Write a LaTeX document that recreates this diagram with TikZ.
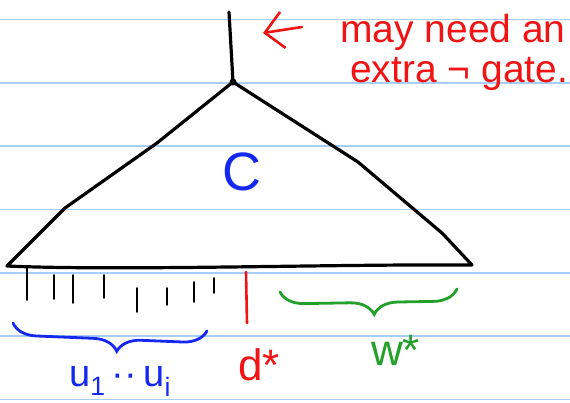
\documentclass[tikz,border=0pt]{standalone}
\usepackage{fontspec}
\setmainfont{Liberation Sans}
\usepackage{tikz}
\usetikzlibrary{arrows.meta,positioning,calc,decorations.pathreplacing}
\definecolor{clRule}{HTML}{A6CFF7}
\definecolor{clNote}{HTML}{F01414}
\definecolor{clCircuit}{HTML}{1428F0}
\definecolor{clWitness}{HTML}{22A02A}
\tikzset{
  rule/.style={draw=clRule, line width=1.6pt},
  pen/.style={line width=3.2pt, line cap=round, line join=round},
  tickmark/.style={line width=1.9pt, line cap=round},
  hand/.style={inner sep=0pt, anchor=base west, font=\fontsize{39}{41}\selectfont},
  pointer/.style={draw=clNote, line width=2.6pt, line cap=round,
                  -{Straight Barb[length=13pt, width=26pt, line width=2.6pt, scale=1.4]}},
  curly/.style={line width=2.8pt, line cap=round, decorate,
                decoration={brace, mirror, amplitude=24pt}},
}

\begin{document}
\begin{tikzpicture}[x=1pt, y=-1pt]
  \useasboundingbox (0,0) rectangle (570,402);
  % ruled paper
  \foreach \y in {19.5,82.8,146.1,209.4,272.7,336,399.3}
    \draw[rule] (0,\y) -- (570,\y);

  % circuit C with its output wire
  \coordinate (apex) at (233,82);
  \coordinate (wireTop) at (229,12);
  \draw[pen] (apex) -- (157,143) -- (65,208) -- (7,266)
    .. controls (120,271) and (330,264) .. (472,265)
    -- (442,233) -- (358,162) -- cycle;
  \draw[pen] (apex) -- (wireTop);
  \fill (apex) circle (3.5pt);
  \node[hand, text=clCircuit, font=\fontsize{54}{56}\selectfont] (circ) at (222,190) {C};

  % input wires
  \foreach \x/\ya/\yb in {27/268/300, 54/275/299, 73/275/303, 104/275/298,
                          137/288/312, 167/288/305, 194/282/302, 214/278/293}
    \draw[tickmark] (\x,\ya) -- (\x,\yb);
  \draw[pen, draw=clNote, line width=2.6pt] (246,272) -- (247,323);

  % note on the output
  \coordinate (arrowTail) at (302,27);
  \coordinate (arrowTip) at (263,33);
  \draw[pointer] (arrowTail) -- (arrowTip);
  \node[hand, text=clNote] (noteTop) at (340,42) {may need an};
  \node[hand, text=clNote] (noteBot) at (350,82) {extra ¬ gate.};

  % braces and labels
  \draw[curly, draw=clCircuit, decoration={aspect=0.54}] (13,323) -- (207,331);
  \draw[curly, draw=clWitness, decoration={aspect=0.53}] (280,292) -- (457,289);
  \node[hand, text=clCircuit, font=\fontsize{38}{40}\selectfont] (uLabel) at (69,386)
    {u\textsubscript{1}\,··\,u\textsubscript{i}};
  \node[hand, text=clNote, font=\fontsize{44}{46}\selectfont] (dLabel) at (238,380) {d*};
  \node[hand, text=clWitness, font=\fontsize{44}{46}\selectfont] (wLabel) at (371,365) {w*};
\end{tikzpicture}
\end{document}
